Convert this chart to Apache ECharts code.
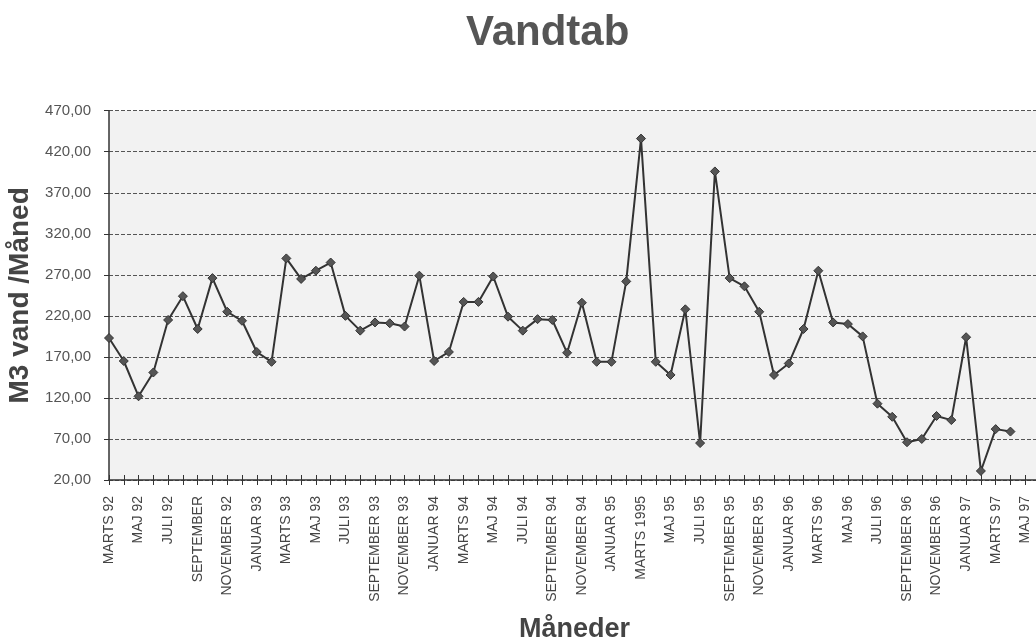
<!DOCTYPE html>
<html>
<head>
<meta charset="utf-8">
<script src="https://cdn.jsdelivr.net/npm/echarts@6/dist/echarts.min.js"></script>
<style>html,body{margin:0;padding:0;background:#fff}#c{width:1036px;height:640px}</style>
</head>
<body>
<div id="c"></div>
<script>
const title = 'Vandtab';
const yName = 'M3 vand /Måned';
const xName = 'Måneder';
const categories = [
 'MARTS 92','APRIL 92','MAJ 92','JUNI 92','JULI 92','AUGUST 92','SEPTEMBER','OKTOBER 92','NOVEMBER 92','DECEMBER 92',
 'JANUAR 93','FEBRUAR 93','MARTS 93','APRIL 93','MAJ 93','JUNI 93','JULI 93','AUGUST 93','SEPTEMBER 93','OKTOBER 93','NOVEMBER 93','DECEMBER 93',
 'JANUAR 94','FEBRUAR 94','MARTS 94','APRIL 94','MAJ 94','JUNI 94','JULI 94','AUGUST 94','SEPTEMBER 94','OKTOBER 94','NOVEMBER 94','DECEMBER 94',
 'JANUAR 95','FEBRUAR 95','MARTS 1995','APRIL 95','MAJ 95','JUNI 95','JULI 95','AUGUST 95','SEPTEMBER 95','OKTOBER 95','NOVEMBER 95','DECEMBER 95',
 'JANUAR 96','FEBRUAR 96','MARTS 96','APRIL 96','MAJ 96','JUNI 96','JULI 96','AUGUST 96','SEPTEMBER 96','OKTOBER 96','NOVEMBER 96','DECEMBER 96',
 'JANUAR 97','FEBRUAR 97','MARTS 97','APRIL 97','MAJ 97','JUNI 97'
];
const values = [
 193,165,122,151,215,244,204,266,225,214,
 176,164,290,265,275,285,220,202,212,211,207,269,
 165,176,237,237,268,219,202,216,215,175,236,164,
 164,262,436,164,148,228,65,396,266,256,225,148,
 162,204,275,212,210,195,113,97,66,70,98,93,
 194,31,82,79,null,null
];
const yMin = 20, yMax = 470, yStep = 50;

const chart = echarts.init(document.getElementById('c'), null, {renderer:'canvas'});
const fontFam = '"Liberation Sans", Arial, sans-serif';
chart.setOption({
  animation:false,
  backgroundColor:'#ffffff',
  title:{text:title,left:461,top:7,textStyle:{fontFamily:fontFam,fontSize:42,fontWeight:'bold',color:'#555'}},
  grid:{left:109,top:110.7,width:931,height:369.3,show:true,backgroundColor:'#f2f2f2',borderWidth:0,
        containLabel:false,outerBoundsMode:'none'},
  xAxis:[{
    type:'category',data:categories,boundaryGap:false,
    name:xName,nameLocation:'middle',nameGap:136,
    nameTextStyle:{fontFamily:fontFam,fontSize:27,fontWeight:'bold',color:'#444'},
    axisLine:{lineStyle:{color:'#333',width:1.5}},
    axisTick:{show:true,interval:0,length:5,lineStyle:{color:'#333'}},
    axisLabel:{interval:1,rotate:90,margin:16,fontFamily:fontFam,fontSize:14,color:'#444'},
    splitLine:{show:false}
  },{
    type:'category',data:categories,boundaryGap:false,position:'bottom',
    axisLine:{show:false},
    axisTick:{show:true,inside:true,interval:0,length:5,lineStyle:{color:'#333'}},
    axisLabel:{show:false},splitLine:{show:false}
  }],
  yAxis:{
    type:'value',min:yMin,max:yMax,interval:yStep,
    name:yName,nameLocation:'middle',nameGap:70,nameRotate:90,
    nameTextStyle:{fontFamily:fontFam,fontSize:28,fontWeight:'bold',color:'#444'},
    axisLine:{show:true,lineStyle:{color:'#333',width:1.5}},
    axisTick:{show:true,length:5,lineStyle:{color:'#333'}},
    axisLabel:{margin:18,fontFamily:fontFam,fontSize:15,color:'#555',
      formatter:v=>v.toFixed(2).replace('.',',')},
    splitLine:{show:true,lineStyle:{color:'#555',type:[4,2],width:1}}
  },
  series:[{
    type:'line',data:values,xAxisIndex:0,
    symbol:'diamond',symbolSize:9,showAllSymbol:true,
    lineStyle:{color:'#333',width:2},
    itemStyle:{color:'#555',borderColor:'#333',borderWidth:1}
  }]
});
</script>
</body>
</html>
